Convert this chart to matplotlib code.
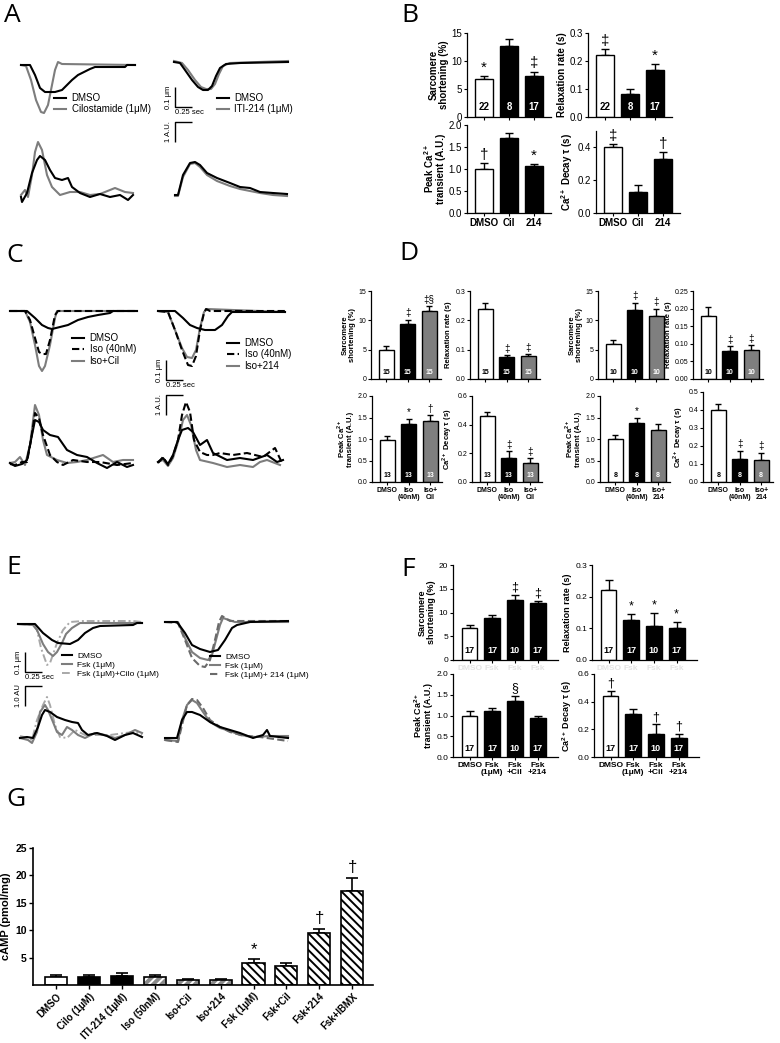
import numpy as np
import matplotlib
matplotlib.use('Agg')
import matplotlib.pyplot as plt

plt.rcParams['font.family'] = ['Liberation Sans', 'DejaVu Sans']
plt.rcParams['mathtext.fontset'] = 'custom'
plt.rcParams['mathtext.rm'] = 'Liberation Sans'
plt.rcParams['mathtext.bf'] = 'Liberation Sans:bold'
plt.rcParams['axes.linewidth'] = 0.9
plt.rcParams['hatch.linewidth'] = 1.4

W, H = 780, 1043
MS_PER_PX = 15.0    # trace time scale (0.25 s bar ~ 17 px)
NM_PER_PX = 5.0     # sarcomere scale (0.1 um bar ~ 20 px)
AU_PER_PX = 0.05    # calcium scale (1 A.U. bar ~ 20 px)

# ---------------- traces: (time ms, value) ----------------
# sarcomere length change in nm (negative = shortening), Ca2+ in A.U.
A_L_SARC_DMSO = [(0, 0), (135, 0), (210, -50), (285, -115), (360, -135), (510, -135), (615, -125),
                 (705, -95), (765, -75), (855, -50), (945, -35), (1035, -20), (1110, -10),
                 (1560, -10), (1590, 0), (1710, 0)]
A_L_SARC_CIL = [(0, 0), (75, -5), (150, -75), (225, -175), (300, -235), (345, -240), (405, -200),
                (465, -100), (510, -25), (555, 15), (615, 5), (1710, 0)]
A_L_CA_DMSO = [(0, -0.05), (15, -0.3), (90, 0.15), (165, 1.15), (240, 1.8), (285, 2.0), (360, 1.8),
               (435, 1.3), (510, 0.9), (615, 0.8), (705, 0.9), (765, 0.45), (885, 0.15), (1035, -0.05),
               (1185, 0.1), (1335, -0.05), (1485, 0.05), (1605, -0.2), (1680, 0.05)]
A_L_CA_CIL = [(0, 0.05), (60, 0.3), (105, -0.05), (165, 1.05), (210, 2.2), (255, 2.7), (315, 2.3),
              (390, 1.05), (465, 0.45), (585, 0.05), (735, 0.2), (885, 0.2), (1035, 0.05),
              (1185, 0.1), (1335, 0.3), (1410, 0.4), (1560, 0.2), (1680, 0.15)]
A_R_SARC_DMSO = [(0, 0), (90, -5), (165, -40), (270, -90), (360, -125), (435, -140), (510, -140),
                 (570, -120), (630, -70), (690, -30), (780, -10), (990, -5), (1710, 0)]
A_R_SARC_214 = [(0, 5), (120, -5), (210, -40), (315, -90), (405, -125), (480, -135), (555, -135),
                (615, -110), (675, -60), (735, -20), (840, -5), (1710, 5)]
A_R_CA_DMSO = [(15, 0), (60, 0), (135, 1.0), (240, 1.6), (315, 1.65), (390, 1.5), (495, 1.1),
               (645, 0.85), (840, 0.6), (990, 0.4), (1140, 0.35), (1290, 0.15), (1485, 0.1), (1695, 0.05)]
A_R_CA_214 = [(15, -0.05), (60, -0.05), (135, 0.9), (240, 1.55), (315, 1.6), (390, 1.4), (495, 1.0),
              (645, 0.7), (840, 0.45), (990, 0.3), (1140, 0.2), (1290, 0.1), (1485, 0.0), (1695, -0.05)]

C_L_SARC_DMSO = [(0, 0), (255, 0), (375, -35), (480, -70), (570, -85), (630, -90), (750, -80),
                 (870, -70), (1020, -45), (1170, -30), (1320, -20), (1500, -10), (1545, 0), (1905, 0)]
C_L_SARC_ISO = [(0, 0), (225, 0), (300, -45), (375, -135), (435, -205), (480, -215), (540, -215),
                (600, -145), (675, -20), (720, 0), (1905, 0)]
C_L_SARC_ISOCIL = [(0, 0), (225, 0), (300, -55), (375, -170), (435, -275), (480, -300), (525, -275),
                   (600, -170), (675, -35), (705, 0), (1905, 0)]
C_L_CA_DMSO = [(0, 0), (75, -0.15), (180, -0.05), (255, 0.15), (315, 1.15), (375, 2.15), (435, 2.05),
               (495, 1.65), (600, 1.4), (720, 1.3), (855, 0.65), (1005, 0.4), (1155, 0.3), (1305, 0),
               (1455, -0.25), (1605, 0.05), (1755, -0.2), (1845, -0.1)]
C_L_CA_ISO = [(0, -0.05), (75, -0.1), (180, 0.05), (255, 0.05), (315, 1.15), (375, 2.5), (435, 2.25),
              (495, 1.4), (600, 0.4), (705, 0.05), (795, -0.1), (945, 0.15), (1155, 0.05),
              (1350, 0.05), (1605, -0.1), (1845, 0)]
C_L_CA_ISOCIL = [(0, 0), (75, 0.05), (150, 0.3), (225, -0.1), (300, 0.9), (375, 2.9), (435, 2.4),
                 (495, 1.15), (555, 0.4), (705, 0.15), (855, 0), (1005, 0.05), (1155, 0.15),
                 (1395, 0.4), (1545, 0.05), (1695, 0.15), (1845, 0.15)]
C_R_SARC_DMSO = [(0, 0), (255, 0), (375, -35), (480, -70), (585, -85), (705, -95), (855, -95),
                 (960, -70), (1050, -25), (1110, -5), (1905, -5)]
C_R_SARC_ISO = [(0, 0), (150, -5), (255, -95), (360, -195), (450, -270), (510, -275), (570, -225),
                (630, -95), (690, -10), (720, 10), (780, 0), (1905, 0)]
C_R_SARC_ISO214 = [(0, 0), (150, -5), (255, -95), (360, -185), (435, -230), (510, -235), (570, -195),
                   (630, -85), (690, -5), (735, 10), (1905, -5)]
C_R_CA_DMSO = [(0, 0), (75, 0.2), (150, -0.1), (225, 0.35), (300, 1.1), (360, 1.6), (450, 1.7),
               (525, 1.5), (630, 0.85), (735, 1.1), (825, 0.45), (1035, 0.1), (1230, 0.2),
               (1425, 0.1), (1635, 0.35), (1785, 0), (1875, 0.1)]
C_R_CA_ISO = [(0, -0.05), (75, 0.25), (150, -0.15), (225, 0.3), (300, 1.1), (360, 2.35), (420, 3.0),
              (480, 2.5), (540, 1.1), (630, 0.5), (735, 0.35), (825, 0.35), (930, 0.45), (1125, 0.35),
              (1335, 0.45), (1575, 0.25), (1755, 0.7), (1860, -0.05)]
C_R_CA_ISO214 = [(0, 0), (75, 0.1), (150, -0.2), (225, 0.2), (300, 1.0), (375, 2.1), (435, 2.35),
                 (495, 1.85), (570, 0.6), (630, 0.1), (825, -0.05), (1035, -0.25), (1230, -0.15),
                 (1425, -0.25), (1530, 0), (1635, 0.1), (1830, -0.15)]

E_L_SARC_DMSO = [(0, 0), (255, 0), (375, -45), (510, -80), (600, -95), (780, -100), (900, -80),
                 (1005, -45), (1125, -20), (1230, -10), (1725, -5), (1785, 5), (1860, 5)]
E_L_SARC_FSK = [(0, 0), (225, -5), (285, -30), (375, -100), (450, -140), (525, -160), (585, -140),
                (660, -95), (720, -50), (810, -20), (930, 5), (1860, 5)]
E_L_SARC_FSKCILO = [(0, 0), (225, -5), (285, -30), (345, -120), (435, -205), (480, -195), (585, -95),
                    (675, -30), (780, 10), (975, 15), (1725, 15), (1860, 10)]
E_L_CA_DMSO = [(0, 0), (105, 0.05), (195, 0), (270, 0.55), (330, 1.15), (375, 1.4), (450, 1.3),
               (555, 1.05), (675, 0.9), (780, 0.8), (870, 0.75), (930, 0.4), (1020, 0.15),
               (1155, 0.25), (1305, 0.1), (1425, -0.1), (1575, 0.15), (1695, 0.25), (1830, 0.05)]
E_L_CA_FSK = [(0, 0), (120, -0.1), (180, -0.25), (255, 0.3), (300, 1.3), (375, 1.65), (420, 1.4),
              (495, 0.8), (555, 0.3), (630, 0.15), (705, 0.55), (780, 0.4), (870, 0.15), (975, 0),
              (1125, 0.25), (1275, 0.15), (1425, 0), (1575, 0.15), (1725, 0.4), (1830, 0.25)]
E_L_CA_FSKCILO = [(0, 0.1), (120, 0), (180, -0.1), (255, 0.9), (345, 1.65), (405, 2.05), (450, 1.65),
                  (525, 0.65), (600, 0.05), (705, 0), (825, 0.4), (975, 0.15), (1125, 0.15),
                  (1350, 0.15), (1575, 0.25), (1725, 0.3), (1830, 0.15)]
E_R_SARC_DMSO = [(0, 0), (180, 0), (300, -55), (405, -115), (525, -135), (675, -150), (795, -140),
                 (900, -90), (1005, -30), (1080, -15), (1275, 0), (1845, 5)]
E_R_SARC_FSK = [(0, 0), (195, 0), (300, -80), (405, -150), (525, -180), (645, -190), (705, -165),
                (765, -90), (825, -15), (870, 20), (1050, 0), (1845, 0)]
E_R_SARC_FSK214 = [(0, 0), (195, -5), (300, -90), (405, -180), (525, -220), (600, -225), (675, -190),
                   (750, -90), (810, 0), (855, 30), (975, 5), (1845, 5)]
E_R_CA_DMSO = [(0, 0.05), (180, 0.05), (255, 0.95), (330, 1.35), (405, 1.35), (525, 1.2), (675, 0.85),
               (825, 0.6), (975, 0.45), (1125, 0.3), (1320, 0.05), (1470, 0.2), (1530, 0.45),
               (1575, 0.15), (1845, 0.05)]
E_R_CA_FSK = [(0, -0.05), (195, -0.1), (255, 0.95), (330, 1.7), (405, 1.95), (480, 1.8), (570, 1.35),
              (675, 0.85), (825, 0.55), (975, 0.4), (1125, 0.2), (1350, 0.1), (1575, 0.15), (1845, 0.15)]
E_R_CA_FSK214 = [(0, -0.05), (195, -0.15), (255, 0.7), (330, 1.7), (405, 2.0), (480, 1.95), (570, 1.55),
                 (675, 0.95), (825, 0.6), (975, 0.35), (1200, 0.15), (1425, 0.1), (1845, -0.1)]

# ---------------- bar data ----------------
B_GROUPS = ['DMSO', 'Cil', '214']
B_N = [22, 8, 17]
B_SHORT, B_SHORT_ERR, B_SHORT_SIG = [6.7, 12.7, 7.4], [0.55, 1.3, 0.7], ['*', '', '‡']
B_RELAX, B_RELAX_ERR, B_RELAX_SIG = [0.22, 0.082, 0.169], [0.022, 0.018, 0.021], ['‡', '', '*']
B_PEAK, B_PEAK_ERR, B_PEAK_SIG = [1.0, 1.7, 1.06], [0.13, 0.12, 0.05], ['†', '', '*']
B_DECAY, B_DECAY_ERR, B_DECAY_SIG = [0.40, 0.13, 0.33], [0.02, 0.04, 0.04], ['‡', '', '†']

D_CIL_GROUPS = ['DMSO', 'Iso\n(40nM)', 'Iso+\nCil']
D_214_GROUPS = ['DMSO', 'Iso\n(40nM)', 'Iso+\n214']
D_CIL_N_TOP, D_CIL_N_BOT = [15, 15, 15], [13, 13, 13]
D_214_N_TOP, D_214_N_BOT = [10, 10, 10], [8, 8, 8]
D_CIL_SHORT, D_CIL_SHORT_ERR, D_CIL_SHORT_SIG = [4.9, 9.3, 11.6], [0.7, 0.8, 0.8], ['', '‡', '‡§']
D_CIL_RELAX, D_CIL_RELAX_ERR, D_CIL_RELAX_SIG = [0.24, 0.074, 0.078], [0.02, 0.007, 0.007], ['', '‡', '‡']
D_CIL_PEAK, D_CIL_PEAK_ERR, D_CIL_PEAK_SIG = [0.97, 1.35, 1.42], [0.1, 0.12, 0.13], ['', '*', '†']
D_CIL_DECAY, D_CIL_DECAY_ERR, D_CIL_DECAY_SIG = [0.46, 0.17, 0.135], [0.03, 0.045, 0.03], ['', '‡', '‡']
D_214_SHORT, D_214_SHORT_ERR, D_214_SHORT_SIG = [5.9, 11.8, 10.8], [0.8, 1.2, 1.2], ['', '‡', '‡']
D_214_RELAX, D_214_RELAX_ERR, D_214_RELAX_SIG = [0.18, 0.079, 0.081], [0.025, 0.015, 0.016], ['', '‡', '‡']
D_214_PEAK, D_214_PEAK_ERR, D_214_PEAK_SIG = [1.0, 1.38, 1.22], [0.1, 0.12, 0.13], ['', '*', '']
D_214_DECAY, D_214_DECAY_ERR, D_214_DECAY_SIG = [0.40, 0.13, 0.125], [0.034, 0.045, 0.037], ['', '‡', '‡']

F_GROUPS = ['DMSO', 'Fsk\n(1μM)', 'Fsk\n+Cil', 'Fsk\n+214']
F_TOP_GROUPS = ['DMSO', 'Fsk', 'Fsk', 'Fsk']
F_N = [17, 17, 10, 17]
F_SHORT, F_SHORT_ERR, F_SHORT_SIG = [6.7, 8.8, 12.7, 11.9], [0.6, 0.6, 1.0, 0.6], ['', '', '‡', '‡']
F_RELAX, F_RELAX_ERR, F_RELAX_SIG = [0.22, 0.127, 0.106, 0.100], [0.033, 0.019, 0.044, 0.02], ['', '*', '*', '*']
F_PEAK, F_PEAK_ERR, F_PEAK_SIG = [1.0, 1.12, 1.36, 0.94], [0.12, 0.05, 0.12, 0.06], ['', '', '§', '']
F_DECAY, F_DECAY_ERR, F_DECAY_SIG = [0.44, 0.31, 0.165, 0.14], [0.04, 0.035, 0.07, 0.025], ['†', '', '†', '†']

G_LABELS = ['DMSO', 'Cilo (1μM)', 'ITI-214 (1μM)', 'Iso (50nM)', 'Iso+Cil', 'Iso+214',
            'Fsk (1μM)', 'Fsk+Cil', 'Fsk+214', 'Fsk+IBMX']
G_VALS = [1.4, 1.5, 1.6, 1.5, 0.9, 0.85, 4.0, 3.5, 9.5, 17.1]
G_ERR = [0.4, 0.25, 0.55, 0.35, 0.2, 0.2, 0.7, 0.5, 0.8, 2.5]
G_SIG = ['', '', '', '', '', '', '*', '', '†', '†']
G_KIND = ['white', 'black', 'black', 'iso', 'iso', 'iso', 'fsk', 'fsk', 'fsk', 'fsk']

# ---------------- helpers ----------------
fig = plt.figure(figsize=(W / 100, H / 100), dpi=100)


def px_rect(l, t, r, b):
    return [l / W, 1 - b / H, (r - l) / W, (b - t) / H]


def trace_ax(x0, base, width, per_px, up=40, down=70):
    ax = fig.add_axes(px_rect(x0, base - up, x0 + width, base + down))
    ax.set_xlim(0, width * MS_PER_PX)
    ax.set_ylim(-down * per_px, up * per_px)
    ax.axis('off')
    return ax


def draw(ax, trace, **kw):
    t, v = zip(*trace)
    return ax.plot(t, v, clip_on=False, solid_joinstyle='round', **kw)[0]


BLK = dict(color='black', lw=1.5)
GRY = dict(color='#7d7d7d', lw=1.5)
DSH = dict(color='black', lw=1.5, ls=(0, (3.5, 1.6)))
DDT = dict(color='#a8a8a8', lw=1.4, ls=(0, (4, 1.5, 1, 1.5)))
GDS = dict(color='#6a6a6a', lw=1.5, ls=(0, (3.5, 1.6)))


def legend(ax, handles, labels, x, y, fs=7):
    ax.legend(handles, labels, loc='upper left', bbox_to_anchor=(x / W, 1 - y / H),
              bbox_transform=fig.transFigure, frameon=False, fontsize=fs, handlelength=1.2,
              handletextpad=0.6, labelspacing=0.15, borderpad=0, borderaxespad=0)


def scale_bars(ax_s, ts, s_top, ax_c, tc, c_top, ca_label):
    ax_s.plot([ts, ts, ts + 250], [s_top, s_top - 100, s_top - 100], color='k', lw=1.0,
              clip_on=False, solid_capstyle='butt')
    ax_s.text(ts - 45, s_top - 50, '0.1 μm', rotation=90, ha='right', va='center', fontsize=5.5)
    ax_s.text(ts, s_top - 112, '0.25 sec', ha='left', va='top', fontsize=5.5)
    ax_c.plot([tc + 250, tc, tc], [c_top, c_top, c_top - 1.0], color='k', lw=1.0,
              clip_on=False, solid_capstyle='butt')
    ax_c.text(tc - 45, c_top - 0.5, ca_label, rotation=90, ha='right', va='center', fontsize=5.5)


def bar_panel(rect, vals, errs, sigs, colors, ylim, yticks, fmt, ylabel, xlim,
              ns=None, xlabels=None, pale=None, width=0.7, fs=7, lab_fs=7, sig_fs=9,
              n_fs=6, n_y=0.1, cap=3):
    ax = fig.add_axes(px_rect(*rect))
    x = np.arange(len(vals))
    ax.bar(x, vals, width=width, color=colors, edgecolor='black', linewidth=1.0, zorder=2)
    ax.errorbar(x, vals, yerr=[np.zeros(len(vals)), errs], fmt='none', ecolor='black',
                elinewidth=1.0, capsize=cap, capthick=1.0, zorder=1)
    top = ylim[1]
    for xi, v, e, s in zip(x, vals, errs, sigs):
        if s:
            ax.text(xi, v + e + 0.015 * top, s, ha='center', va='bottom', fontsize=sig_fs)
    if ns is not None:
        for xi, n, c in zip(x, ns, colors):
            ax.text(xi, n_y * top, str(n), ha='center', va='center', fontsize=n_fs,
                    fontweight='bold', color='black' if c == 'white' else 'white')
    ax.set_xlim(*xlim)
    ax.set_ylim(*ylim)
    ax.spines['top'].set_visible(False)
    ax.spines['right'].set_visible(False)
    ax.set_yticks(yticks)
    ax.set_yticklabels([fmt.format(t) for t in yticks])
    ax.set_xticks(x)
    if xlabels is not None:
        ax.set_xticklabels(xlabels, fontweight='bold', fontsize=fs, linespacing=1.0)
    elif pale is not None:
        ax.set_xticklabels(pale, fontweight='bold', fontsize=fs, color='#e4e4e4')
    else:
        ax.set_xticklabels([])
    ax.tick_params(axis='both', labelsize=fs, length=2.5, width=0.8, pad=1)
    ax.set_ylabel(ylabel, fontsize=lab_fs, fontweight='bold', labelpad=2, linespacing=1.0)
    return ax


SHORT_LBL = 'Sarcomere\nshortening (%)'
RELAX_LBL = 'Relaxation rate (s)'
PEAK_LBL = 'Peak Ca$^{\\mathbf{2+}}$\ntransient (A.U.)'
DECAY_LBL = 'Ca$^{\\mathbf{2+}}$ Decay τ (s)'

# ---------------- panel letters ----------------
for letter, x, y in [('A', 4, 3), ('B', 401, 3), ('C', 6, 243), ('D', 399, 241),
                     ('E', 6, 555), ('F', 401, 557), ('G', 6, 787)]:
    fig.text(x / W, 1 - y / H, letter, fontsize=19, va='top', ha='left', family='Open Sans')

# ---------------- panel A traces ----------------
ax = trace_ax(21, 65, 115, NM_PER_PX)
g = draw(ax, A_L_SARC_CIL, **GRY)
k = draw(ax, A_L_SARC_DMSO, **BLK)
legend(ax, [k, g], ['DMSO', 'Cilostamide (1μM)'], 54, 93)
ax = trace_ax(21, 196, 115, AU_PER_PX, up=70, down=20)
draw(ax, A_L_CA_CIL, **GRY)
draw(ax, A_L_CA_DMSO, **BLK)

axs = trace_ax(174, 62, 115, NM_PER_PX)
g = draw(axs, A_R_SARC_214, **GRY)
k = draw(axs, A_R_SARC_DMSO, **BLK)
legend(axs, [k, g], ['DMSO', 'ITI-214 (1μM)'], 217, 93)
axc = trace_ax(174, 195, 115, AU_PER_PX, up=70, down=20)
draw(axc, A_R_CA_214, **GRY)
draw(axc, A_R_CA_DMSO, **BLK)
scale_bars(axs, 15, -125, axc, 15, 3.65, '1 A.U.')

# ---------------- panel C traces ----------------
ax = trace_ax(10, 311, 128, NM_PER_PX)
g = draw(ax, C_L_SARC_ISOCIL, **GRY)
d = draw(ax, C_L_SARC_ISO, **DSH)
k = draw(ax, C_L_SARC_DMSO, **BLK)
legend(ax, [k, d, g], ['DMSO', 'Iso (40nM)', 'Iso+Cil'], 72, 333)
ax = trace_ax(10, 463, 128, AU_PER_PX, up=70, down=20)
draw(ax, C_L_CA_ISOCIL, **GRY)
draw(ax, C_L_CA_ISO, **DSH)
draw(ax, C_L_CA_DMSO, **BLK)

axs = trace_ax(158, 311, 128, NM_PER_PX)
g = draw(axs, C_R_SARC_ISO214, **GRY)
d = draw(axs, C_R_SARC_ISO, **DSH)
k = draw(axs, C_R_SARC_DMSO, **BLK)
legend(axs, [k, d, g], ['DMSO', 'Iso (40nM)', 'Iso+214'], 227, 338)
axc = trace_ax(158, 462, 128, AU_PER_PX, up=70, down=20)
draw(axc, C_R_CA_ISO214, **GRY)
draw(axc, C_R_CA_ISO, **DSH)
draw(axc, C_R_CA_DMSO, **BLK)
scale_bars(axs, 120, -245, axc, 120, 3.35, '1 A.U.')

# ---------------- panel E traces ----------------
axs = trace_ax(18, 624, 125, NM_PER_PX)
dd = draw(axs, E_L_SARC_FSKCILO, **DDT)
g = draw(axs, E_L_SARC_FSK, **GRY)
k = draw(axs, E_L_SARC_DMSO, **BLK)
legend(axs, [k, g, dd], ['DMSO', 'Fsk (1μM)', 'Fsk (1μM)+Cilo (1μM)'], 62, 652, fs=6)
axc = trace_ax(20, 738, 123, AU_PER_PX, up=70, down=20)
draw(axc, E_L_CA_FSKCILO, **DDT)
draw(axc, E_L_CA_FSK, **GRY)
draw(axc, E_L_CA_DMSO, **BLK)
scale_bars(axs, 105, -140, axc, 75, 2.6, '1.0 AU')

ax = trace_ax(165, 622, 124, NM_PER_PX)
g = draw(ax, E_R_SARC_FSK, **GRY)
d = draw(ax, E_R_SARC_FSK214, **GDS)
k = draw(ax, E_R_SARC_DMSO, **BLK)
legend(ax, [k, g, d], ['DMSO', 'Fsk (1μM)', 'Fsk (1μM)+ 214 (1μM)'], 210, 653, fs=6)
ax = trace_ax(165, 739, 124, AU_PER_PX, up=70, down=20)
draw(ax, E_R_CA_FSK, **GRY)
draw(ax, E_R_CA_FSK214, **GDS)
draw(ax, E_R_CA_DMSO, **BLK)

# ---------------- panel B bars ----------------
b_col = ['white', 'black', 'black']
b_xlim = (-0.68, 2.68)
bar_panel((467, 33, 551, 117), B_SHORT, B_SHORT_ERR, B_SHORT_SIG, b_col, (0, 15), [0, 5, 10, 15],
          '{:g}', SHORT_LBL, b_xlim, ns=B_N, fs=7, sig_fs=11, n_fs=7, n_y=0.12)
bar_panel((588, 33, 672, 117), B_RELAX, B_RELAX_ERR, B_RELAX_SIG, b_col, (0, 0.3),
          [0, 0.1, 0.2, 0.3], '{:.1f}', RELAX_LBL, b_xlim, ns=B_N, fs=7, sig_fs=11,
          n_fs=7, n_y=0.12)
bar_panel((467, 125, 551, 213), B_PEAK, B_PEAK_ERR, B_PEAK_SIG, b_col, (0, 2.0),
          [0, 0.5, 1.0, 1.5, 2.0], '{:.1f}', PEAK_LBL, b_xlim, xlabels=B_GROUPS, fs=7, sig_fs=11)
bar_panel((596, 131, 680, 213), B_DECAY, B_DECAY_ERR, B_DECAY_SIG, b_col, (0, 0.5),
          [0, 0.2, 0.4], '{:.1f}', DECAY_LBL, b_xlim, xlabels=B_GROUPS, fs=7, sig_fs=11)

# ---------------- panel D bars ----------------
d_col = ['white', 'black', '#7f7f7f']
d_xlim = (-0.72, 2.55)
dkw = dict(fs=5, lab_fs=5.5, sig_fs=7, n_fs=5, n_y=0.07, cap=2)
bar_panel((371, 291, 441, 379), D_CIL_SHORT, D_CIL_SHORT_ERR, D_CIL_SHORT_SIG, d_col, (0, 15),
          [0, 5, 10, 15], '{:g}', SHORT_LBL, d_xlim, ns=D_CIL_N_TOP, **dkw)
bar_panel((470, 291, 540, 379), D_CIL_RELAX, D_CIL_RELAX_ERR, D_CIL_RELAX_SIG, d_col, (0, 0.3),
          [0, 0.1, 0.2, 0.3], '{:.1f}', RELAX_LBL, d_xlim, ns=D_CIL_N_TOP, **dkw)
bar_panel((598, 291, 668, 379), D_214_SHORT, D_214_SHORT_ERR, D_214_SHORT_SIG, d_col, (0, 15),
          [0, 5, 10, 15], '{:g}', SHORT_LBL, d_xlim, ns=D_214_N_TOP, **dkw)
bar_panel((693, 291, 763, 379), D_214_RELAX, D_214_RELAX_ERR, D_214_RELAX_SIG, d_col, (0, 0.25),
          [0, 0.05, 0.10, 0.15, 0.20, 0.25], '{:.2f}', RELAX_LBL, d_xlim, ns=D_214_N_TOP, **dkw)
bar_panel((372, 396, 442, 482), D_CIL_PEAK, D_CIL_PEAK_ERR, D_CIL_PEAK_SIG, d_col, (0, 2.0),
          [0, 0.5, 1.0, 1.5, 2.0], '{:.1f}', PEAK_LBL, d_xlim, ns=D_CIL_N_BOT,
          xlabels=D_CIL_GROUPS, **dkw)
bar_panel((472, 396, 542, 482), D_CIL_DECAY, D_CIL_DECAY_ERR, D_CIL_DECAY_SIG, d_col, (0, 0.6),
          [0, 0.2, 0.4, 0.6], '{:.1f}', DECAY_LBL, d_xlim, ns=D_CIL_N_BOT,
          xlabels=D_CIL_GROUPS, **dkw)
bar_panel((600, 396, 670, 482), D_214_PEAK, D_214_PEAK_ERR, D_214_PEAK_SIG, d_col, (0, 2.0),
          [0, 0.5, 1.0, 1.5, 2.0], '{:.1f}', PEAK_LBL, d_xlim, ns=D_214_N_BOT,
          xlabels=D_214_GROUPS, **dkw)
bar_panel((703, 392, 773, 482), D_214_DECAY, D_214_DECAY_ERR, D_214_DECAY_SIG, d_col, (0, 0.5),
          [0, 0.1, 0.2, 0.3, 0.4, 0.5], '{:.1f}', DECAY_LBL, d_xlim, ns=D_214_N_BOT,
          xlabels=D_214_GROUPS, **dkw)

# ---------------- panel F bars ----------------
f_col = ['white', 'black', 'black', 'black']
f_xlim = (-0.73, 3.9)
fkw = dict(fs=6, lab_fs=6.5, sig_fs=9, n_fs=6.5, n_y=0.1, cap=3)
bar_panel((453, 565, 558, 660), F_SHORT, F_SHORT_ERR, F_SHORT_SIG, f_col, (0, 20),
          [0, 5, 10, 15, 20], '{:g}', SHORT_LBL, f_xlim, ns=F_N, pale=F_TOP_GROUPS, **fkw)
bar_panel((592, 565, 697, 660), F_RELAX, F_RELAX_ERR, F_RELAX_SIG, f_col, (0, 0.3),
          [0, 0.1, 0.2, 0.3], '{:.1f}', RELAX_LBL, f_xlim, ns=F_N, pale=F_TOP_GROUPS, **fkw)
bar_panel((453, 674, 558, 757), F_PEAK, F_PEAK_ERR, F_PEAK_SIG, f_col, (0, 2.0),
          [0, 0.5, 1.0, 1.5, 2.0], '{:.1f}', PEAK_LBL, f_xlim, ns=F_N, xlabels=F_GROUPS, **fkw)
bar_panel((594, 674, 699, 757), F_DECAY, F_DECAY_ERR, F_DECAY_SIG, f_col, (0, 0.6),
          [0, 0.2, 0.4, 0.6], '{:.1f}', DECAY_LBL, f_xlim, ns=F_N, xlabels=F_GROUPS, **fkw)

# ---------------- panel G ----------------
ax = fig.add_axes(px_rect(33, 848, 373, 985))
x = np.arange(len(G_VALS))
for xi, v, kind in zip(x, G_VALS, G_KIND):
    if kind == 'iso':
        ax.bar(xi, v, width=0.67, color='#8a8a8a', edgecolor='white', hatch='////', linewidth=0,
               zorder=2)
        ax.bar(xi, v, width=0.67, color='none', edgecolor='black', linewidth=1.2, zorder=3)
    elif kind == 'fsk':
        ax.bar(xi, v, width=0.67, color='white', edgecolor='black', hatch='\\\\\\\\',
               linewidth=1.2, zorder=2)
    else:
        ax.bar(xi, v, width=0.67, color=kind, edgecolor='black', linewidth=1.2, zorder=2)
ax.errorbar(x, G_VALS, yerr=[np.zeros(len(G_VALS)), G_ERR], fmt='none', ecolor='black',
            elinewidth=1.2, capsize=4, capthick=1.2, zorder=1)
for xi, v, e, s in zip(x, G_VALS, G_ERR, G_SIG):
    if s:
        ax.text(xi, v + e + 0.4, s, ha='center', va='bottom', fontsize=12)
ax.set_xlim(-0.7, 9.63)
ax.set_ylim(0, 25)
ax.spines['top'].set_visible(False)
ax.spines['right'].set_visible(False)
ax.spines['left'].set_linewidth(1.2)
ax.spines['bottom'].set_linewidth(1.2)
ax.set_yticks([5, 10, 15, 20, 25])
ax.set_yticklabels(['5', '10', '15', '20', '25'], fontweight='bold')
ax.set_xticks(x)
ax.set_xticklabels(G_LABELS, rotation=45, ha='right', rotation_mode='anchor',
                   fontweight='bold', fontsize=7)
ax.tick_params(axis='both', labelsize=7.5, length=3, width=1.0, pad=1.5)
ax.tick_params(axis='x', labelsize=7)
ax.set_ylabel('cAMP (pmol/mg)', fontsize=8, fontweight='bold', labelpad=3)

fig.savefig('out.png', dpi=100)
